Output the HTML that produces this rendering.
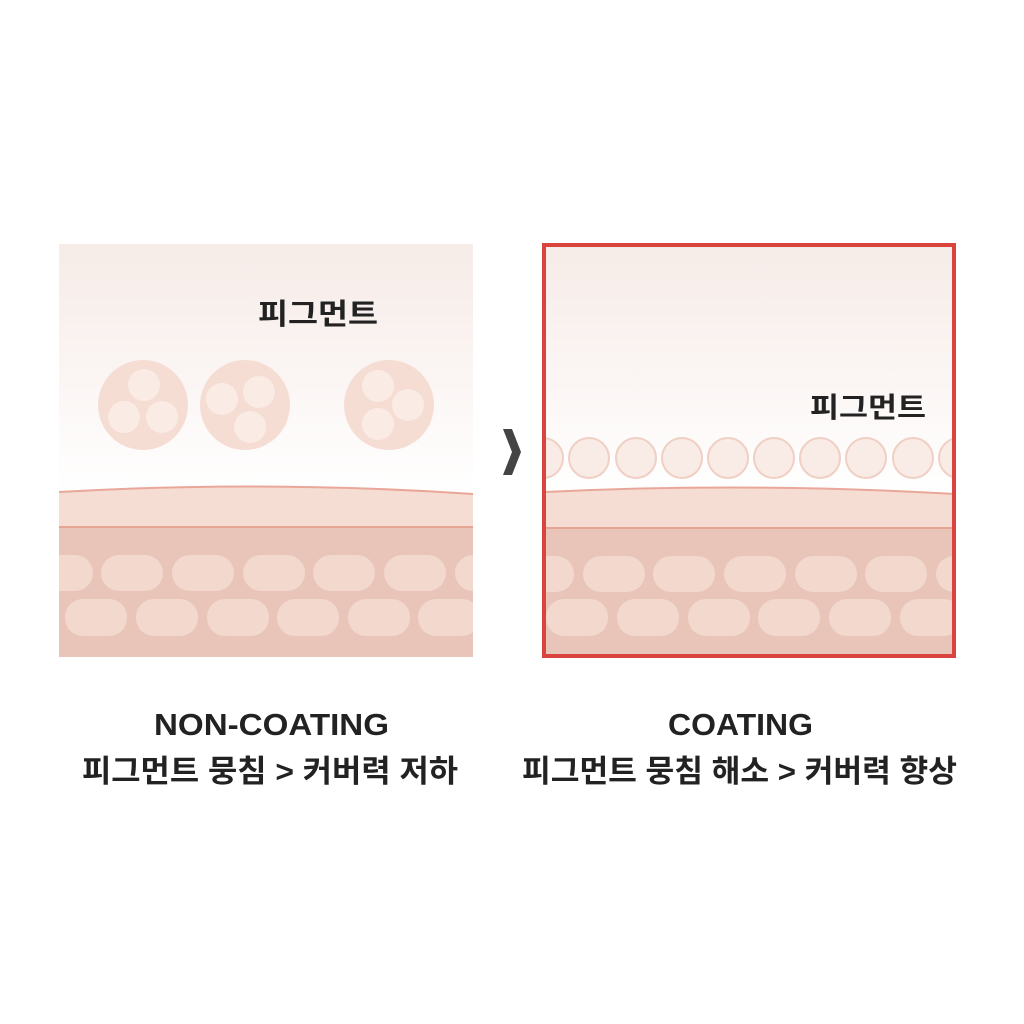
<!DOCTYPE html>
<html><head><meta charset="utf-8"><style>
html,body{margin:0;padding:0;background:#fff;}
svg{display:block}
text{font-family:"Liberation Sans","Noto Sans CJK KR","NanumGothic",sans-serif;font-weight:bold;fill:#222;}
</style></head><body>
<svg width="1024" height="1024" viewBox="0 0 1024 1024" xmlns="http://www.w3.org/2000/svg">
<defs>
<linearGradient id="g" x1="0" y1="0" x2="0" y2="1">
<stop offset="0" stop-color="#f6ebe7"/><stop offset="1" stop-color="#ffffff"/>
</linearGradient>
<clipPath id="cl"><rect x="59" y="244" width="414" height="413"/></clipPath>
<clipPath id="cr"><rect x="545" y="246" width="408" height="409"/></clipPath>
</defs>
<!-- left panel -->
<g clip-path="url(#cl)">
<rect x="59" y="244" width="414" height="250" fill="url(#g)"/>
<path d="M59 492 Q266 480 473 494 L473 657 L59 657 Z" fill="#f5ddd4"/>
<path d="M59 492 Q266 480 473 494" fill="none" stroke="#e9a799" stroke-width="2"/>
<rect x="59" y="527" width="414" height="130" fill="#e8c5b8"/>
<line x1="59" y1="527" x2="473" y2="527" stroke="#e5a595" stroke-width="2"/>
<g fill="#f3d8cd">
<rect x="30" y="555" width="63" height="36" rx="18"/>
<rect x="101" y="555" width="62" height="36" rx="18"/>
<rect x="172" y="555" width="62" height="36" rx="18"/>
<rect x="243" y="555" width="62" height="36" rx="18"/>
<rect x="313" y="555" width="62" height="36" rx="18"/>
<rect x="384" y="555" width="62" height="36" rx="18"/>
<rect x="455" y="555" width="62" height="36" rx="18"/>
<rect x="65" y="599" width="62" height="37" rx="18"/>
<rect x="136" y="599" width="62" height="37" rx="18"/>
<rect x="207" y="599" width="62" height="37" rx="18"/>
<rect x="277" y="599" width="62" height="37" rx="18"/>
<rect x="348" y="599" width="62" height="37" rx="18"/>
<rect x="418" y="599" width="62" height="37" rx="18"/>
</g>
<g fill="#f5ddd4">
<circle cx="143" cy="405" r="45"/><circle cx="245" cy="405" r="45"/><circle cx="389" cy="405" r="45"/>
</g>
<g fill="#faebe5">
<circle cx="144" cy="385" r="16"/><circle cx="124" cy="417" r="16"/><circle cx="162" cy="417" r="16"/>
<circle cx="222" cy="399" r="16"/><circle cx="259" cy="392" r="16"/><circle cx="250" cy="427" r="16"/>
<circle cx="378" cy="386" r="16"/><circle cx="408" cy="405" r="16"/><circle cx="378" cy="424" r="16"/>
</g>
</g>
<text x="258" y="324" font-size="29" textLength="120" lengthAdjust="spacingAndGlyphs">피그먼트</text>
<!-- chevron -->
<path d="M503 429 L512 429 L521 452 L512 475 L503 475 L512 452 Z" fill="#444"/>
<!-- right panel -->
<g clip-path="url(#cr)">
<rect x="545" y="244" width="410" height="250" fill="url(#g)"/>
<path d="M545 492 Q750 482 955 494 L955 657 L545 657 Z" fill="#f5ddd4"/>
<path d="M545 492 Q750 482 955 494" fill="none" stroke="#e9a799" stroke-width="2"/>
<rect x="545" y="528" width="410" height="130" fill="#e8c5b8"/>
<line x1="545" y1="528" x2="955" y2="528" stroke="#e5a595" stroke-width="2"/>
<g fill="#f3d8cd">
<rect x="512" y="556" width="62" height="36" rx="18"/>
<rect x="583" y="556" width="62" height="36" rx="18"/>
<rect x="653" y="556" width="62" height="36" rx="18"/>
<rect x="724" y="556" width="62" height="36" rx="18"/>
<rect x="795" y="556" width="62" height="36" rx="18"/>
<rect x="865" y="556" width="62" height="36" rx="18"/>
<rect x="936" y="556" width="62" height="36" rx="18"/>
<rect x="546" y="599" width="62" height="37" rx="18"/>
<rect x="617" y="599" width="62" height="37" rx="18"/>
<rect x="688" y="599" width="62" height="37" rx="18"/>
<rect x="758" y="599" width="62" height="37" rx="18"/>
<rect x="829" y="599" width="62" height="37" rx="18"/>
<rect x="900" y="599" width="62" height="37" rx="18"/>
</g>
<g fill="#f9ebe5" stroke="#f0d0c4" stroke-width="2">
<circle cx="543" cy="458" r="20"/><circle cx="589" cy="458" r="20"/><circle cx="636" cy="458" r="20"/>
<circle cx="682" cy="458" r="20"/><circle cx="728" cy="458" r="20"/><circle cx="774" cy="458" r="20"/>
<circle cx="820" cy="458" r="20"/><circle cx="866" cy="458" r="20"/><circle cx="913" cy="458" r="20"/>
<circle cx="959" cy="458" r="20"/>
</g>
</g>
<rect x="544" y="245" width="410" height="411" fill="none" stroke="#d9453c" stroke-width="4"/>
<text x="810" y="417" font-size="28" textLength="116" lengthAdjust="spacingAndGlyphs">피그먼트</text>
<!-- captions -->
<text x="154" y="735" font-size="31" textLength="235" lengthAdjust="spacingAndGlyphs">NON-COATING</text>
<text x="82" y="782" font-size="31" textLength="376" lengthAdjust="spacingAndGlyphs">피그먼트 뭉침 &gt; 커버력 저하</text>
<text x="668" y="735" font-size="31" textLength="145" lengthAdjust="spacingAndGlyphs">COATING</text>
<text x="522" y="782" font-size="31" textLength="435" lengthAdjust="spacingAndGlyphs">피그먼트 뭉침 해소 &gt; 커버력 향상</text>
</svg>
</body></html>
